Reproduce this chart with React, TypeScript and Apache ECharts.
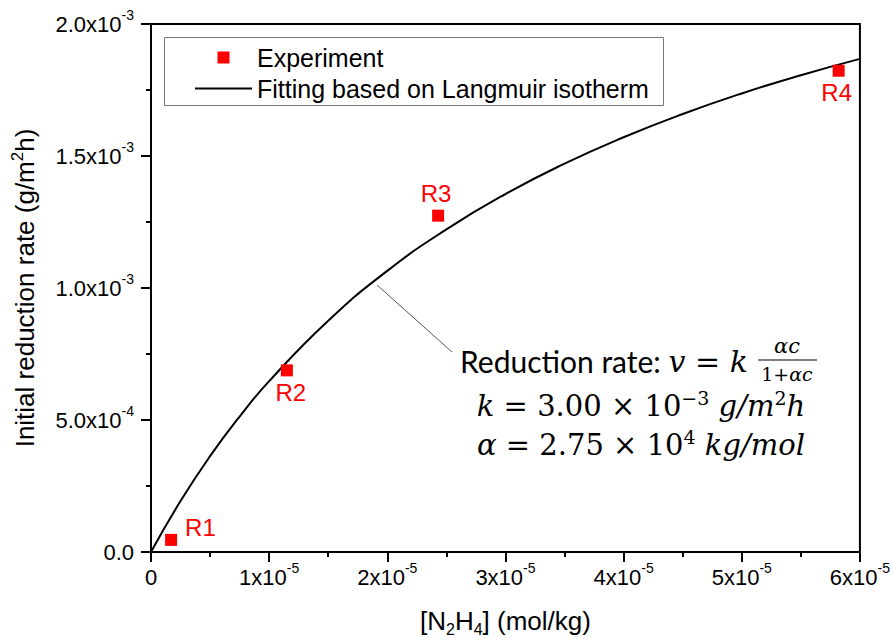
import React, { useEffect, useRef } from "react";
import * as echarts from "echarts";

// Experimental points
const expNames = ["R1", "R2", "R3", "R4"];
const expX = [1.7e-6, 1.15e-5, 2.43e-5, 5.82e-5];
const expY = [4.6e-5, 6.88e-4, 1.274e-3, 1.823e-3];

// Fitting curve
const fitX = [0, 2.5e-6, 5e-6, 7.5e-6, 1e-5, 1.5e-5, 2e-5, 2.5e-5, 3e-5, 3.5e-5, 4e-5, 4.5e-5, 5e-5, 5.5e-5, 6e-5];
const fitY = [0, 1.93e-4, 3.63e-4, 5.13e-4, 6.47e-4, 8.76e-4, 1.065e-3, 1.222e-3, 1.356e-3, 1.471e-3, 1.571e-3, 1.659e-3, 1.737e-3, 1.806e-3, 1.868e-3];

// Tick labels
const xTickMantissa = ["0", "1x10", "2x10", "3x10", "4x10", "5x10", "6x10"];
const xTickExp = ["", "-5", "-5", "-5", "-5", "-5", "-5"];
const yTickMantissa = ["0.0", "5.0x10", "1.0x10", "1.5x10", "2.0x10"];
const yTickExp = ["", "-4", "-3", "-3", "-3"];

const SANS = "'Liberation Sans', Arial, sans-serif";
const MATH = "'DejaVu Serif', serif";
const CAL = "Lato, 'Open Sans', sans-serif";

export default function App() {
  const ref = useRef<HTMLDivElement>(null);
  useEffect(() => {
    if (!ref.current) return;
    const chart = echarts.init(ref.current, null, { renderer: "svg" });

    const labelPlacement: any[] = [
      { position: "right", distance: 8, offset: [0, -12] },
      { position: "bottom", distance: 4, offset: [4, 0] },
      { position: "top", distance: 4, offset: [-2, 0] },
      { position: "bottom", distance: 4, offset: [-2, 0] },
    ];

    const expData = expX.map((x, i) => ({
      value: [x, expY[i]],
      name: expNames[i],
      label: {
        show: true,
        formatter: expNames[i],
        color: "#ff0000",
        fontSize: 24,
        fontFamily: SANS,
        ...labelPlacement[i],
      },
    }));

    const fitData = fitX.map((x, i) => [x, fitY[i]]);

    const tickRich = {
      m: { fontSize: 22, lineHeight: 32, fontFamily: SANS, color: "#000" },
      e: { fontSize: 14, lineHeight: 14, verticalAlign: "top", fontFamily: SANS, color: "#000" },
    };

    const mathRich = {
      i: { fontSize: 29, lineHeight: 36, fontFamily: MATH, fontStyle: "italic", fill: "#000" },
      n: { fontSize: 29, lineHeight: 36, fontFamily: MATH, fill: "#000" },
      s: { fontSize: 19, lineHeight: 19, verticalAlign: "top", fontFamily: MATH, fill: "#000" },
    };

    const option: any = {
      animation: false,
      backgroundColor: "#fff",
      textStyle: { fontFamily: SANS },
      grid: {
        left: 151,
        right: 32,
        top: 24,
        bottom: 89,
        show: true,
        borderColor: "#000",
        borderWidth: 2,
        backgroundColor: "transparent",
      },
      xAxis: {
        type: "value",
        min: 0,
        max: 6e-5,
        interval: 1e-5,
        name: "{t|[N}{b|2}{t|H}{b|4}{t|] (mol/kg)}",
        nameLocation: "middle",
        nameGap: 53,
        nameTextStyle: {
          rich: {
            t: { fontSize: 26, lineHeight: 32, fontFamily: SANS, color: "#000" },
            b: { fontSize: 16, lineHeight: 16, verticalAlign: "bottom", fontFamily: SANS, color: "#000" },
          },
        },
        axisLine: { show: true, lineStyle: { color: "#000", width: 2 } },
        axisTick: { show: true, inside: false, length: 10, lineStyle: { color: "#000", width: 2 } },
        minorTick: { show: true, splitNumber: 2, length: 5, lineStyle: { color: "#000", width: 2 } },
        splitLine: { show: false },
        axisLabel: {
          margin: 9,
          formatter: (v: number) => {
            const i = Math.round(v / 1e-5);
            const m = xTickMantissa[i] ?? "";
            const e = xTickExp[i] ?? "";
            return e ? `{m|${m}}{e|${e}}` : `{m|${m}}`;
          },
          rich: tickRich,
        },
      },
      yAxis: {
        type: "value",
        min: 0,
        max: 2e-3,
        interval: 5e-4,
        name: "{t|Initial reduction rate (g/m}{s|2}{t|h)}",
        nameLocation: "middle",
        nameGap: 110,
        nameTextStyle: {
          rich: {
            t: { fontSize: 26, lineHeight: 32, fontFamily: SANS, color: "#000" },
            s: { fontSize: 17, lineHeight: 17, verticalAlign: "top", fontFamily: SANS, color: "#000" },
          },
        },
        axisLine: { show: true, lineStyle: { color: "#000", width: 2 } },
        axisTick: { show: true, inside: false, length: 10, lineStyle: { color: "#000", width: 2 } },
        minorTick: { show: true, splitNumber: 2, length: 5, lineStyle: { color: "#000", width: 2 } },
        splitLine: { show: false },
        axisLabel: {
          margin: 17,
          formatter: (v: number) => {
            const i = Math.round(v / 5e-4);
            const m = yTickMantissa[i] ?? "";
            const e = yTickExp[i] ?? "";
            return e ? `{m|${m}}{e|${e}}` : `{m|${m}}`;
          },
          rich: tickRich,
        },
      },
      legend: {
        left: 195,
        top: 45,
        orient: "vertical",
        itemWidth: 57,
        itemHeight: 12,
        itemGap: 6,
        padding: 0,
        symbolKeepAspect: true,
        textStyle: { fontSize: 25, color: "#000", fontFamily: SANS },
        data: [
          { name: "Experiment", icon: "path://M0,0h12v12h-12z", itemStyle: { color: "#ff0000", opacity: 1 } },
          { name: "Fitting based on Langmuir isotherm", icon: "path://M0,0h57v2h-57z", itemStyle: { color: "#000" } },
        ],
      },
      series: [
        {
          name: "Fitting based on Langmuir isotherm",
          type: "line",
          data: fitData,
          smooth: true,
          symbol: "none",
          lineStyle: { color: "#000", width: 2 },
          itemStyle: { color: "#000" },
          z: 2,
        },
        {
          name: "Experiment",
          type: "scatter",
          data: expData,
          symbol: "rect",
          symbolSize: 12,
          itemStyle: { color: "#ff0000", opacity: 1 },
          z: 3,
        },
      ],
      graphic: [
        {
          type: "rect",
          shape: { x: 164.5, y: 37.5, width: 499, height: 68 },
          style: { fill: "none", stroke: "#777", lineWidth: 1 },
          z: 10,
        },
        {
          type: "line",
          shape: { x1: 377, y1: 285, x2: 452, y2: 352 },
          style: { stroke: "#555", lineWidth: 1 },
          z: 10,
        },
        {
          type: "text",
          x: 460,
          y: 361,
          z: 10,
          style: {
            text: "{r|Reduction rate: }{i|v}{n| = }{i|k}",
            verticalAlign: "middle",
            align: "left",
            rich: {
              r: { fontSize: 30, fontFamily: CAL, fill: "#000" },
              i: { fontSize: 30, fontFamily: MATH, fontStyle: "italic", fill: "#000" },
              n: { fontSize: 30, fontFamily: MATH, fill: "#000" },
            },
          },
        },
        {
          type: "text",
          x: 787,
          y: 346,
          z: 10,
          style: {
            text: "αc",
            align: "center",
            verticalAlign: "middle",
            fontSize: 21,
            fontFamily: MATH,
            fontStyle: "italic",
            fill: "#000",
          },
        },
        {
          type: "line",
          shape: { x1: 758, y1: 360, x2: 817, y2: 360 },
          style: { stroke: "#000", lineWidth: 1.2 },
          z: 10,
        },
        {
          type: "text",
          x: 787,
          y: 374,
          z: 10,
          style: {
            text: "{n|1+}{i|αc}",
            align: "center",
            verticalAlign: "middle",
            rich: {
              n: { fontSize: 19, lineHeight: 19, fontFamily: MATH, fill: "#000" },
              i: { fontSize: 19, lineHeight: 19, fontFamily: MATH, fontStyle: "italic", fill: "#000" },
            },
          },
        },
        {
          type: "text",
          x: 641,
          y: 406,
          z: 10,
          style: {
            text: "{i|k}{n| = 3.00 × 10}{s|−3}{i| g/m}{s|2}{i|h}",
            align: "center",
            verticalAlign: "middle",
            rich: mathRich,
          },
        },
        {
          type: "text",
          x: 641,
          y: 445,
          z: 10,
          style: {
            text: "{i|α}{n| = 2.75 × 10}{s|4}{i| kg/mol}",
            align: "center",
            verticalAlign: "middle",
            rich: mathRich,
          },
        },
      ],
    };

    chart.setOption(option);
    return () => chart.dispose();
  }, []);

  return (
    <div
      ref={ref}
      style={{ position: "absolute", left: 0, top: 0, width: 893, height: 642, background: "#fff" }}
    />
  );
}
